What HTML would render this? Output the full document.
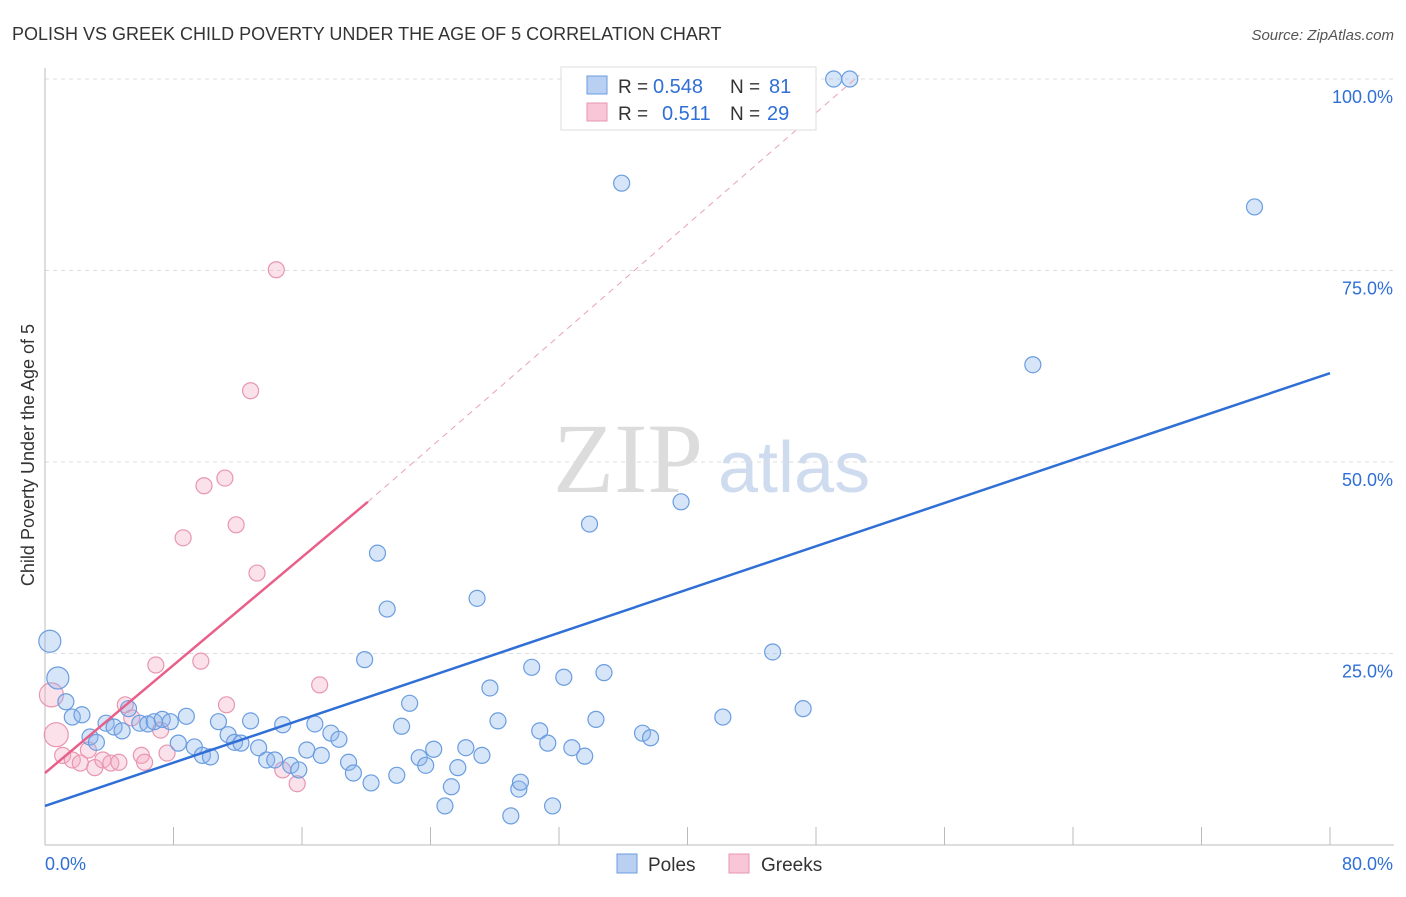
<!DOCTYPE html>
<html><head><meta charset="utf-8"><style>
body{margin:0;background:#fff;font-family:"Liberation Sans",sans-serif;}
svg text{font-family:"Liberation Sans",sans-serif;}
</style></head><body>
<svg id="chart" width="1406" height="892" xmlns="http://www.w3.org/2000/svg">
<text x="12" y="40" font-size="18" fill="#333">POLISH VS GREEK CHILD POVERTY UNDER THE AGE OF 5 CORRELATION CHART</text>
<text x="1394" y="40" font-size="15" fill="#555" font-style="italic" text-anchor="end">Source: ZipAtlas.com</text>
<text x="553" y="492" style="font-family:'Liberation Serif',serif;font-size:100px" fill="#dcdcdc">ZIP</text>
<text x="718" y="492" font-size="72" fill="#cfdcef">atlas</text>
<text transform="translate(34,455) rotate(-90)" font-size="18" fill="#333" text-anchor="middle">Child Poverty Under the Age of 5</text>
<g id="grid"></g><g id="marks"></g>
<g>
<rect x="561" y="67" width="255" height="63" fill="#fff" stroke="#ddd"/>
<rect x="587" y="76" width="20" height="18" fill="#b9d0f2" stroke="#6a9de0"/>
<text x="618" y="93" font-size="19" fill="#333">R =</text><text x="653" y="93" font-size="20" fill="#2f6fd6">0.548</text>
<text x="730" y="93" font-size="19" fill="#333">N =</text><text x="769" y="93" font-size="20" fill="#2f6fd6">81</text>
<rect x="587" y="103" width="20" height="18" fill="#f8c6d6" stroke="#e896b0"/>
<text x="618" y="120" font-size="19" fill="#333">R =</text><text x="662" y="120" font-size="20" fill="#2f6fd6">0.511</text>
<text x="730" y="120" font-size="19" fill="#333">N =</text><text x="767" y="120" font-size="20" fill="#2f6fd6">29</text>
</g>
<g>
<rect x="617" y="854" width="20" height="19" fill="#b9d0f2" stroke="#6a9de0"/>
<text x="648" y="871" font-size="19" fill="#333">Poles</text>
<rect x="729" y="854" width="20" height="19" fill="#f8c6d6" stroke="#e896b0"/>
<text x="761" y="871" font-size="19" fill="#333">Greeks</text>
</g>
<text x="45" y="870" font-size="18" fill="#2f6fd6">0.0%</text>
<text x="1393" y="870" font-size="18" fill="#2f6fd6" text-anchor="end">80.0%</text>
</svg>
<script>
const yTicks=[25,50,75,100];
const yTickLabels=["25.0%","50.0%","75.0%","100.0%"];
const xTicks=[0,8,16,24,32,40,48,56,64,72,80];
const polesX=[0.3,0.8,1.3,1.7,2.3,2.8,3.2,3.8,4.3,4.8,5.2,5.9,6.4,6.8,7.3,7.8,8.3,8.8,9.3,9.8,10.3,10.8,11.4,11.8,12.2,12.8,13.3,13.8,14.3,14.8,15.3,15.8,16.3,16.8,17.2,17.8,18.3,18.9,19.2,19.9,20.3,20.7,21.3,21.9,22.2,22.7,23.3,23.7,24.2,24.9,25.3,25.7,26.2,26.9,27.2,27.7,28.2,29.0,29.5,29.6,30.3,30.8,31.3,31.6,32.3,32.8,33.6,33.9,34.3,34.8,35.9,37.2,37.7,39.6,42.2,45.3,47.2,49.1,50.1,61.5,75.3];
const polesY=[26.6,21.8,18.7,16.7,17.0,14.1,13.4,15.9,15.4,14.9,17.8,15.9,15.8,16.1,16.4,16.1,13.3,16.8,12.8,11.7,11.5,16.1,14.4,13.4,13.3,16.2,12.7,11.1,11.1,15.7,10.4,9.8,12.4,15.8,11.7,14.6,13.8,10.8,9.4,24.2,8.1,38.1,30.8,9.1,15.5,18.5,11.4,10.4,12.5,5.1,7.6,10.1,12.7,32.2,11.7,20.5,16.2,3.8,7.3,8.2,23.2,14.9,13.3,5.1,21.9,12.7,11.6,41.9,16.4,22.5,86.4,14.6,14.0,44.8,16.7,25.2,17.8,100,100,62.7,83.3];
const greeksX=[0.4,0.7,1.1,1.7,2.2,2.7,3.1,3.6,4.1,4.6,5.0,5.4,6.0,6.2,6.9,7.2,7.6,8.6,9.7,9.9,11.2,11.3,11.9,12.8,13.2,14.4,14.8,15.7,17.1];
const greeksY=[19.6,14.4,11.7,11.1,10.7,12.4,10.1,11.1,10.7,10.8,18.3,16.6,11.7,10.8,23.5,15.0,12.0,40.1,24.0,46.9,47.9,18.3,41.8,59.3,35.5,75.1,9.8,8.0,20.9];
const polesTrend=[0,5.1,80,61.6];
const greeksTrend=[0,9.4,20.1,44.8,50.7,100.5];
const NS="http://www.w3.org/2000/svg";
const sx=v=>45+v*16.0625, sy=v=>845-v*7.66;
function mk(parent,tag,attrs){const e=document.createElementNS(NS,tag);for(const k in attrs)e.setAttribute(k,attrs[k]);parent.appendChild(e);return e;}
const grid=document.getElementById('grid'), marks=document.getElementById('marks');
yTicks.forEach((t,i)=>{
 const l=mk(grid,'line',{x1:45,x2:1394,y1:sy(t),y2:sy(t),stroke:'#ddd','stroke-dasharray':'4,4'});
 
 
 const tx=mk(grid,'text',{x:1393,y:sy(t)+24,'font-size':18,fill:'#2f6fd6','text-anchor':'end'});
 tx.textContent=yTickLabels[i];
 
 
});
const ax=mk(grid,'line',{x1:45,x2:1394,y1:845,y2:845,stroke:'#bbb'});


const ay=mk(grid,'line',{x1:45,x2:45,y1:68,y2:845,stroke:'#bbb'});


xTicks.forEach(t=>{
 const l=mk(grid,'line',{x1:sx(t),x2:sx(t),y1:827,y2:845,stroke:'#bbb'});
 
 
});
function dot(x,y,fill,stroke,name,r){
 const c=mk(marks,'circle',{cx:sx(x),cy:sy(y),r:r,fill:fill,stroke:stroke,'stroke-width':1.2});
 
 
}
greeksX.forEach((x,i)=>dot(x,greeksY[i],'rgba(244,170,195,0.35)','#e896b0','greeks-point',(i<2)?12:8));
polesX.forEach((x,i)=>dot(x,polesY[i],'rgba(140,180,236,0.35)','#6a9de0','poles-point',(i<2)?11:8));
const pl=mk(marks,'line',{x1:sx(polesTrend[0]),y1:sy(polesTrend[1]),x2:sx(polesTrend[2]),y2:sy(polesTrend[3]),stroke:'#2f6fd6','stroke-width':2.5});


const gd=mk(marks,'line',{x1:sx(greeksTrend[2]),y1:sy(greeksTrend[3]),x2:sx(greeksTrend[4]),y2:sy(greeksTrend[5]),stroke:'#e8a0b8','stroke-width':1,'stroke-dasharray':'6,5'});


const gl=mk(marks,'line',{x1:sx(greeksTrend[0]),y1:sy(greeksTrend[1]),x2:sx(greeksTrend[2]),y2:sy(greeksTrend[3]),stroke:'#e8608a','stroke-width':2.5});


</script>
</body></html>
